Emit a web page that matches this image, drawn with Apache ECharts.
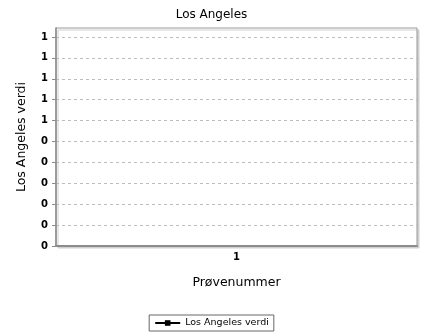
<!DOCTYPE html>
<html>
<head>
<meta charset="utf-8">
<script src="https://cdn.jsdelivr.net/npm/echarts@6/dist/echarts.min.js"></script>
<style>
  html, body { margin: 0; padding: 0; background: #fff; }
  #chart { width: 423px; height: 333px; }
</style>
</head>
<body>
<div id="chart"></div>
<script>
// Sample numbers along the category axis
const categories = ['1'];
// Measured values per sample (no reading recorded)
const laValues = [null];
// Value-axis ticks and the labels printed beside them (whole-number format)
const yTickValues = [0, 0.1, 0.2, 0.3, 0.4, 0.5, 0.6, 0.7, 0.8, 0.9, 1];
const yTickLabels = ['0', '0', '0', '0', '0', '0', '1', '1', '1', '1', '1'];
const yMax = 1.043;

const FONT = '"DejaVu Sans", sans-serif';

const chart = echarts.init(document.getElementById('chart'), null, { renderer: 'canvas' });

chart.setOption({
  animation: false,
  backgroundColor: '#fff',
  title: {
    text: 'Los Angeles',
    left: 'center',
    top: 4,
    textStyle: { fontFamily: FONT, fontSize: 12, fontWeight: 'normal', color: '#000' }
  },
  legend: {
    data: ['Los Angeles verdi'],
    bottom: 2,
    left: 'center',
    itemWidth: 25,
    itemHeight: 7,
    itemGap: 4,
    padding: [3, 5, 3, 5],
    borderColor: '#666',
    borderWidth: 1,
    textStyle: { fontFamily: FONT, fontSize: 9.5, color: '#000' }
  },
  grid: {
    left: 56,
    right: 6,
    top: 28,
    bottom: 87,
    show: true,
    backgroundColor: '#fff',
    borderColor: '#999',
    borderWidth: 1,
    shadowColor: '#d0d0d0',
    shadowOffsetX: 2,
    shadowOffsetY: 2,
    shadowBlur: 0
  },
  xAxis: {
    type: 'category',
    data: categories,
    name: 'Prøvenummer',
    nameLocation: 'middle',
    nameGap: 30,
    nameTextStyle: { fontFamily: FONT, fontSize: 12.5, color: '#000' },
    axisLine: { lineStyle: { color: '#8c8c8c', width: 2 } },
    axisTick: { show: false },
    axisLabel: { fontFamily: FONT, fontSize: 10, fontWeight: 'bold', color: '#000', margin: 6 },
    splitLine: { show: false }
  },
  yAxis: {
    type: 'value',
    min: 0,
    max: yMax,
    interval: 0.1,
    name: 'Los Angeles verdi',
    nameLocation: 'middle',
    nameGap: 28,
    nameRotate: 90,
    nameTextStyle: { fontFamily: FONT, fontSize: 12.5, color: '#000' },
    axisLine: { show: true, lineStyle: { color: '#8c8c8c', width: 1.5 } },
    axisTick: { show: true, customValues: yTickValues, length: 4, lineStyle: { color: '#8c8c8c' } },
    axisLabel: {
      customValues: yTickValues,
      fontFamily: FONT,
      fontSize: 10,
      fontWeight: 'bold',
      color: '#000',
      margin: 8,
      formatter: function (v) {
        const i = yTickValues.findIndex(function (t) { return Math.abs(t - v) < 1e-9; });
        return i >= 0 ? yTickLabels[i] : '';
      }
    },
    splitLine: { show: true, lineStyle: { color: '#bdbdbd', type: [3, 3], width: 1 } }
  },
  series: [{
    name: 'Los Angeles verdi',
    type: 'line',
    data: laValues,
    symbol: 'rect',
    symbolSize: 6,
    itemStyle: { color: '#000' },
    lineStyle: { color: '#000', width: 1.5 }
  }]
});
</script>
</body>
</html>
